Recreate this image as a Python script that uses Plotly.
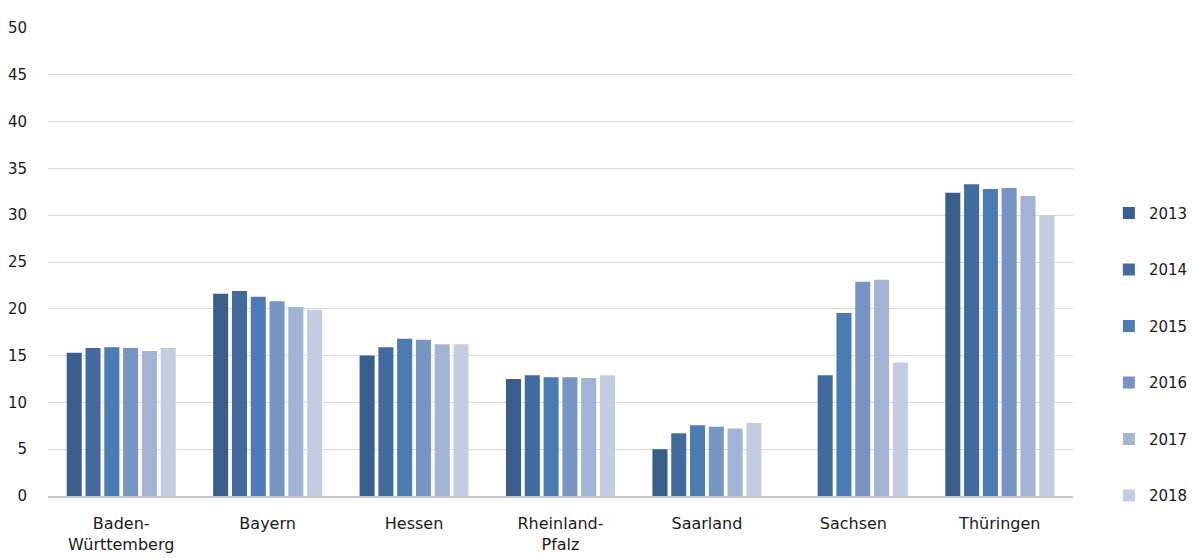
import plotly.graph_objects as go

categories = ["Baden-<br>Württemberg", "Bayern", "Hessen", "Rheinland-<br>Pfalz", "Saarland", "Sachsen", "Thüringen"]
years = ["2013", "2014", "2015", "2016", "2017", "2018"]
v2013 = [15.3, 21.6, 15.0, 12.5, 5.0, None, 32.4]
v2014 = [15.8, 21.9, 15.9, 12.9, 6.7, 12.9, 33.3]
v2015 = [15.9, 21.3, 16.8, 12.7, 7.55, 19.55, 32.8]
v2016 = [15.8, 20.8, 16.7, 12.7, 7.4, 22.9, 32.9]
v2017 = [15.5, 20.2, 16.2, 12.6, 7.2, 23.1, 32.05]
v2018 = [15.8, 19.9, 16.2, 12.9, 7.8, 14.25, 30.0]
series = [v2013, v2014, v2015, v2016, v2017, v2018]
colors = ["#3a5e8c", "#416b9e", "#4a7bb4", "#7695c4", "#a2b4d4", "#c2cde2"]

fig = go.Figure()
for y, vals, c in zip(years, series, colors):
    fig.add_trace(go.Bar(x=categories, y=vals, name=y, marker_color=c,
                         marker_line_width=0, legendgroup=y))

font = "DejaVu Sans, sans-serif"
fig.update_layout(
    width=1193, height=558,
    margin=dict(l=48, r=120, t=28, b=62, autoexpand=False),
    paper_bgcolor="white", plot_bgcolor="white",
    barmode="group", bargap=0.23, bargroupgap=0.2,
    font=dict(family=font, size=15, color="#1a1a1a"),
    legend=dict(x=1.035, xanchor="left", y=0.303, yanchor="middle",
                tracegroupgap=34, font=dict(size=15), itemwidth=30),
    showlegend=True,
)
fig.update_yaxes(range=[0, 50], dtick=5, showgrid=True, gridcolor="#d9d9d9", gridwidth=1,
                 zeroline=False, showline=False, ticks="", ticklabelstandoff=20,
                 tickfont=dict(size=15), automargin=False)
fig.update_xaxes(showline=True, linecolor="#c8c8c8", linewidth=2, ticks="",
                 tickfont=dict(size=16), ticklabelstandoff=12, automargin=False)
fig.write_html("out.html")
